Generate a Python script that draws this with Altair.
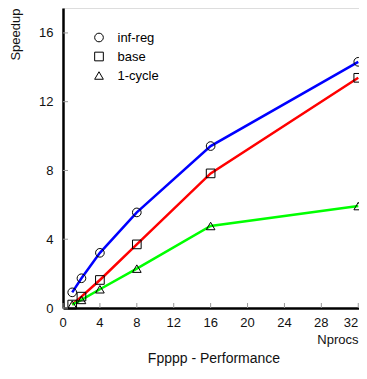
import altair as alt
import pandas as pd

# ---- data ----
nprocs = [1, 2, 4, 8, 16, 32]
inf_reg = [0.91, 1.73, 3.21, 5.56, 9.42, 14.32]
base = [0.20, 0.66, 1.63, 3.70, 7.83, 13.39]
one_cycle = [0.20, 0.47, 1.09, 2.29, 4.77, 5.93]
series_names = ["inf-reg", "base", "1-cycle"]
line_colors = ["#0000ff", "#ff0000", "#00ff00"]
marker_shapes = ["circle", "square", "triangle-up"]
x_ticks = [0, 4, 8, 12, 16, 20, 24, 28, 32]
y_ticks = [0, 4, 8, 12, 16]

rows = []
for name, vals in zip(series_names, [inf_reg, base, one_cycle]):
    for n, v in zip(nprocs, vals):
        rows.append({"series": name, "nprocs": n, "speedup": v})
df = pd.DataFrame(rows)

FONT = "Liberation Sans"
W, H = 296, 300

xscale = alt.Scale(domain=[0, 32.08], nice=False, zero=False)
yscale = alt.Scale(domain=[0, 17.45], nice=False, zero=False)

x_axis = alt.Axis(values=x_ticks, ticks=False, grid=False, domainColor="black",
                  domainWidth=2.5, labels=False,
                  title="Nprocs", titleFont=FONT, titleFontSize=13,
                  titleFontWeight="normal", titleColor="#111", titleX=W - 1, titleY=35,
                  titleAlign="right", titleBaseline="alphabetic")
y_axis = alt.Axis(values=y_ticks, ticks=False, grid=False, domainColor="black",
                  domainWidth=2.5, labelFont=FONT, labelFontSize=13, labelColor="#111",
                  labelPadding=10, labelOverlap=False, labelFlush=False,
                  title="Speedup", titleFont=FONT, titleFontSize=13,
                  titleFontWeight="normal", titleColor="#111", titleX=-44, titleY=0,
                  titleAngle=-90, titleAlign="right", titleBaseline="alphabetic", format="d")

# colour scale domain kept in sorted order so it is not merged with the shape legend
color_map = dict(zip(series_names, line_colors))
color_domain = sorted(series_names)
color = alt.Color("series:N",
                  scale=alt.Scale(domain=color_domain, range=[color_map[s] for s in color_domain]),
                  legend=None)

lines = alt.Chart(df).mark_line(strokeWidth=2.5).encode(
    x=alt.X("nprocs:Q", scale=xscale, axis=x_axis),
    y=alt.Y("speedup:Q", scale=yscale, axis=y_axis),
    color=color,
)

points = alt.Chart(df).mark_point(filled=False, color="black", strokeWidth=1, size=75, opacity=1).encode(
    x=alt.X("nprocs:Q", scale=xscale, axis=x_axis),
    y=alt.Y("speedup:Q", scale=yscale, axis=y_axis),
    shape=alt.Shape("series:N", scale=alt.Scale(domain=series_names, range=marker_shapes),
                    legend=alt.Legend(title=None, orient="none", legendX=29.5, legendY=23,
                                      labelFont=FONT, labelFontSize=13, labelColor="black",
                                      symbolSize=75, symbolStrokeColor="black",
                                      symbolFillColor="transparent", symbolStrokeWidth=1,
                                      rowPadding=5, labelOffset=12, padding=0)),
)

xt = pd.DataFrame({"t": x_ticks})
yt = pd.DataFrame({"t": y_ticks})
xtick_rules = alt.Chart(xt).mark_rule(color="#999", strokeWidth=1).encode(
    x=alt.X("t:Q", scale=xscale, axis=x_axis), y=alt.value(H - 5), y2=alt.value(H))
ytick_rules = alt.Chart(yt).mark_rule(color="#999", strokeWidth=1).encode(
    y=alt.Y("t:Q", scale=yscale, axis=y_axis), x=alt.value(0), x2=alt.value(5))

# x tick labels drawn as text so the last one can sit flush inside the page
xlab_mid = alt.Chart(xt).transform_filter("datum.t < 32").mark_text(
    font=FONT, fontSize=13, color="#111", align="center", baseline="top").encode(
    x=alt.X("t:Q", scale=xscale, axis=x_axis), y=alt.value(H + 9), text=alt.Text("t:Q", format="d"))
xlab_end = alt.Chart(xt).transform_filter("datum.t >= 32").mark_text(
    font=FONT, fontSize=13, color="#111", align="right", baseline="top", dx=0).encode(
    x=alt.X("t:Q", scale=xscale, axis=x_axis), y=alt.value(H + 9), text=alt.Text("t:Q", format="d"))

chart = alt.layer(lines, points, xtick_rules, ytick_rules, xlab_mid, xlab_end).properties(
    width=W, height=H,
    title=alt.TitleParams("Fpppp - Performance", orient="bottom", anchor="middle",
                          font=FONT, fontSize=14, fontWeight="normal", color="#111",
                          offset=6, dx=3),
    autosize=alt.AutoSizeParams(type="none"),
    padding={"left": 55, "top": 0, "right": 0, "bottom": 59},
).configure_view(stroke=None).configure(background="white")

chart.save("out.html", embed_options={"renderer": "svg", "actions": False})
